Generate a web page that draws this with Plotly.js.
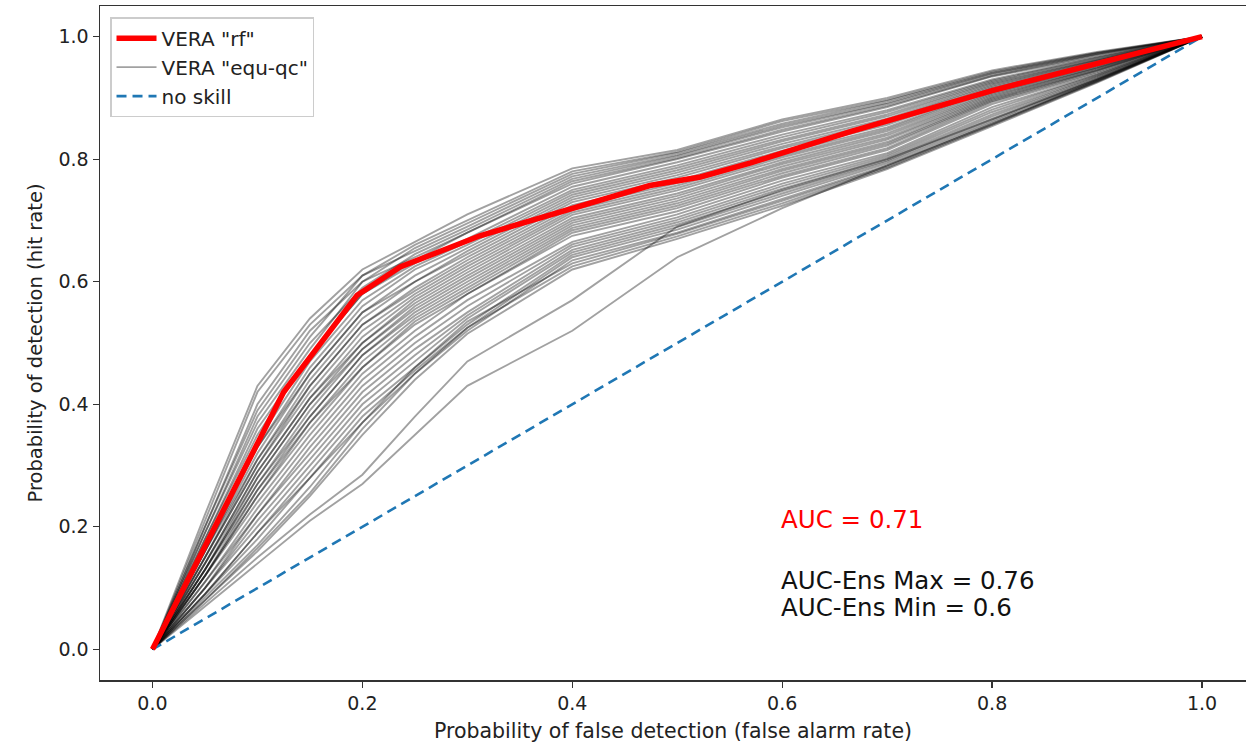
<!DOCTYPE html>
<html>
<head>
<meta charset="utf-8">
<script src="https://cdn.plot.ly/plotly-3.0.1.min.js"></script>
<style>
  html, body { margin: 0; padding: 0; background: #ffffff; }
  #chart { width: 1246px; height: 744px; }
</style>
</head>
<body>
<div id="chart"></div>
<script>
// ---- Data ----
// VERA "rf" ROC curve
const rfFalseAlarm = [0, 0.125, 0.195, 0.236, 0.312, 0.40, 0.474, 0.522, 0.57, 0.665, 0.80, 1.0];
const rfHitRate    = [0, 0.42, 0.578, 0.624, 0.675, 0.72, 0.757, 0.771, 0.794, 0.845, 0.912, 1.0];

// VERA "equ-qc" ensemble members (shared false-alarm grid)
const ensFalseAlarm = [0, 0.05, 0.1, 0.15, 0.2, 0.25, 0.3, 0.4, 0.5, 0.6, 0.7, 0.8, 0.9, 1.0];
const ensHitRates = [
  [0, 0.22, 0.43, 0.54, 0.62, 0.665, 0.71, 0.785, 0.815, 0.865, 0.90, 0.945, 0.975, 1],
  [0, 0.21, 0.42, 0.53, 0.61, 0.66, 0.70, 0.78, 0.812, 0.862, 0.897, 0.943, 0.974, 1],
  [0, 0.20, 0.40, 0.52, 0.60, 0.655, 0.695, 0.776, 0.81, 0.858, 0.895, 0.941, 0.973, 1],
  [0, 0.20, 0.39, 0.51, 0.61, 0.65, 0.69, 0.772, 0.807, 0.855, 0.892, 0.94, 0.972, 1],
  [0, 0.19, 0.38, 0.50, 0.59, 0.645, 0.685, 0.768, 0.805, 0.852, 0.89, 0.938, 0.971, 1],
  [0, 0.19, 0.37, 0.49, 0.60, 0.64, 0.68, 0.764, 0.802, 0.848, 0.887, 0.936, 0.97, 1],
  [0, 0.18, 0.36, 0.48, 0.58, 0.635, 0.68, 0.76, 0.80, 0.845, 0.885, 0.935, 0.968, 1],
  [0, 0.18, 0.35, 0.48, 0.58, 0.63, 0.67, 0.755, 0.795, 0.84, 0.88, 0.93, 0.966, 1],
  [0, 0.17, 0.34, 0.47, 0.57, 0.625, 0.665, 0.75, 0.79, 0.836, 0.877, 0.928, 0.965, 1],
  [0, 0.17, 0.33, 0.46, 0.56, 0.62, 0.66, 0.746, 0.786, 0.832, 0.873, 0.926, 0.963, 1],
  [0, 0.16, 0.33, 0.45, 0.55, 0.61, 0.655, 0.742, 0.782, 0.829, 0.87, 0.924, 0.962, 1],
  [0, 0.16, 0.32, 0.45, 0.55, 0.60, 0.65, 0.738, 0.778, 0.825, 0.866, 0.922, 0.961, 1],
  [0, 0.16, 0.31, 0.44, 0.54, 0.60, 0.645, 0.734, 0.774, 0.821, 0.863, 0.92, 0.96, 1],
  [0, 0.15, 0.31, 0.43, 0.53, 0.59, 0.64, 0.73, 0.77, 0.818, 0.859, 0.918, 0.958, 1],
  [0, 0.15, 0.30, 0.43, 0.53, 0.585, 0.635, 0.725, 0.765, 0.814, 0.856, 0.916, 0.957, 1],
  [0, 0.15, 0.30, 0.42, 0.52, 0.58, 0.63, 0.721, 0.761, 0.81, 0.852, 0.914, 0.956, 1],
  [0, 0.14, 0.29, 0.41, 0.51, 0.575, 0.625, 0.717, 0.757, 0.806, 0.849, 0.912, 0.954, 1],
  [0, 0.14, 0.29, 0.41, 0.50, 0.57, 0.62, 0.713, 0.753, 0.803, 0.846, 0.909, 0.953, 1],
  [0, 0.14, 0.28, 0.40, 0.50, 0.565, 0.615, 0.709, 0.749, 0.799, 0.842, 0.907, 0.952, 1],
  [0, 0.13, 0.28, 0.40, 0.49, 0.56, 0.61, 0.704, 0.744, 0.795, 0.839, 0.905, 0.95, 1],
  [0, 0.13, 0.27, 0.39, 0.49, 0.555, 0.605, 0.70, 0.74, 0.792, 0.835, 0.903, 0.949, 1],
  [0, 0.13, 0.27, 0.38, 0.48, 0.55, 0.60, 0.696, 0.736, 0.788, 0.832, 0.901, 0.948, 1],
  [0, 0.13, 0.26, 0.38, 0.48, 0.545, 0.595, 0.692, 0.732, 0.784, 0.828, 0.899, 0.946, 1],
  [0, 0.12, 0.26, 0.37, 0.47, 0.54, 0.59, 0.688, 0.728, 0.781, 0.825, 0.897, 0.945, 1],
  [0, 0.12, 0.25, 0.37, 0.46, 0.535, 0.585, 0.684, 0.724, 0.777, 0.822, 0.895, 0.944, 1],
  [0, 0.12, 0.25, 0.36, 0.46, 0.53, 0.58, 0.68, 0.72, 0.773, 0.818, 0.893, 0.942, 1],
  [0, 0.12, 0.24, 0.35, 0.45, 0.52, 0.58, 0.675, 0.715, 0.77, 0.815, 0.89, 0.94, 1],
  [0, 0.11, 0.23, 0.34, 0.44, 0.51, 0.57, 0.665, 0.71, 0.765, 0.81, 0.885, 0.938, 1],
  [0, 0.11, 0.22, 0.33, 0.43, 0.50, 0.56, 0.661, 0.705, 0.76, 0.807, 0.881, 0.937, 1],
  [0, 0.10, 0.22, 0.32, 0.42, 0.49, 0.55, 0.657, 0.701, 0.756, 0.804, 0.877, 0.935, 1],
  [0, 0.10, 0.21, 0.31, 0.41, 0.48, 0.545, 0.652, 0.697, 0.752, 0.801, 0.873, 0.934, 1],
  [0, 0.10, 0.20, 0.30, 0.40, 0.47, 0.54, 0.648, 0.693, 0.748, 0.798, 0.87, 0.932, 1],
  [0, 0.09, 0.19, 0.29, 0.39, 0.46, 0.53, 0.644, 0.689, 0.744, 0.796, 0.866, 0.931, 1],
  [0, 0.09, 0.19, 0.28, 0.38, 0.455, 0.525, 0.64, 0.685, 0.74, 0.793, 0.863, 0.93, 1],
  [0, 0.09, 0.18, 0.28, 0.37, 0.45, 0.52, 0.635, 0.68, 0.735, 0.79, 0.86, 0.928, 1],
  [0, 0.085, 0.17, 0.265, 0.37, 0.46, 0.535, 0.63, 0.678, 0.732, 0.788, 0.858, 0.927, 1],
  [0, 0.08, 0.165, 0.255, 0.36, 0.45, 0.525, 0.625, 0.674, 0.728, 0.786, 0.856, 0.926, 1],
  [0, 0.08, 0.16, 0.25, 0.35, 0.44, 0.515, 0.62, 0.67, 0.724, 0.784, 0.854, 0.925, 1],
  [0, 0.075, 0.15, 0.22, 0.285, 0.38, 0.47, 0.57, 0.69, 0.75, 0.80, 0.865, 0.93, 1],
  [0, 0.07, 0.14, 0.21, 0.27, 0.35, 0.43, 0.52, 0.64, 0.72, 0.79, 0.857, 0.928, 1]
];

// no-skill reference line
const noSkillX = [0, 1];
const noSkillY = [0, 1];

// Texts
const legendNames = ['VERA "rf"', 'VERA "equ-qc"', 'no skill'];
const aucText = 'AUC = 0.71';
const aucMaxText = 'AUC-Ens Max = 0.76';
const aucMinText = 'AUC-Ens Min = 0.6';
const xTitle = 'Probability of false detection (false alarm rate)';
const yTitle = 'Probability of detection (hit rate)';

// ---- Traces ----
const FONT = 'DejaVu Sans, Verdana, sans-serif';
const traces = [];
ensHitRates.forEach((hr, i) => {
  traces.push({
    type: 'scatter', mode: 'lines',
    x: ensFalseAlarm, y: hr,
    name: legendNames[1],
    legendrank: 2,
    showlegend: i === 0,
    line: { color: 'rgba(0,0,0,0.37)', width: 1.9 },
    hoverinfo: 'skip'
  });
});
traces.push({
  type: 'scatter', mode: 'lines',
  x: noSkillX, y: noSkillY,
  name: legendNames[2],
  legendrank: 3,
  line: { color: '#1f77b4', width: 2.6, dash: '10px,6px' }
});
traces.push({
  type: 'scatter', mode: 'lines',
  x: rfFalseAlarm, y: rfHitRate,
  name: legendNames[0],
  legendrank: 1,
  line: { color: '#ff0000', width: 5.5 }
});

const axisCommon = {
  showgrid: false, zeroline: false,
  showline: true, linecolor: '#333333', linewidth: 1.5,
  ticks: 'outside', ticklen: 6, tickwidth: 1.3, tickcolor: '#333333',
  tickfont: { family: FONT, size: 19, color: '#222222' },
  tickformat: '.1f', tick0: 0, dtick: 0.2
};

const layout = {
  width: 1246, height: 744,
  paper_bgcolor: '#ffffff', plot_bgcolor: '#ffffff',
  margin: { l: 100, r: 0, t: 6, b: 64 },
  showlegend: true,
  legend: {
    x: 0.009, y: 0.983, xanchor: 'left', yanchor: 'top',
    bgcolor: 'rgba(255,255,255,0.85)', bordercolor: '#cccccc', borderwidth: 1.2,
    font: { family: FONT, size: 20, color: '#222222' },
    traceorder: 'normal', itemwidth: 40
  },
  xaxis: Object.assign({}, axisCommon, {
    range: [-0.05, 1.0419], mirror: true,
    title: { text: xTitle, font: { family: FONT, size: 20.5, color: '#222222' }, standoff: 10 }
  }),
  yaxis: Object.assign({}, axisCommon, {
    range: [-0.05, 1.05], mirror: false,
    title: { text: yTitle, font: { family: FONT, size: 19.5, color: '#222222' }, standoff: 10 }
  }),
  annotations: [
    { x: 0.597, y: 0.212, xref: 'x', yref: 'y', text: aucText, showarrow: false,
      xanchor: 'left', yanchor: 'middle', font: { family: FONT, size: 24.5, color: '#ff0000' } },
    { x: 0.597, y: 0.113, xref: 'x', yref: 'y', text: aucMaxText, showarrow: false,
      xanchor: 'left', yanchor: 'middle', font: { family: FONT, size: 24.5, color: '#111111' } },
    { x: 0.597, y: 0.069, xref: 'x', yref: 'y', text: aucMinText, showarrow: false,
      xanchor: 'left', yanchor: 'middle', font: { family: FONT, size: 24.5, color: '#111111' } }
  ]
};

Plotly.newPlot('chart', traces, layout, { displayModeBar: false, staticPlot: true });
</script>
</body>
</html>
